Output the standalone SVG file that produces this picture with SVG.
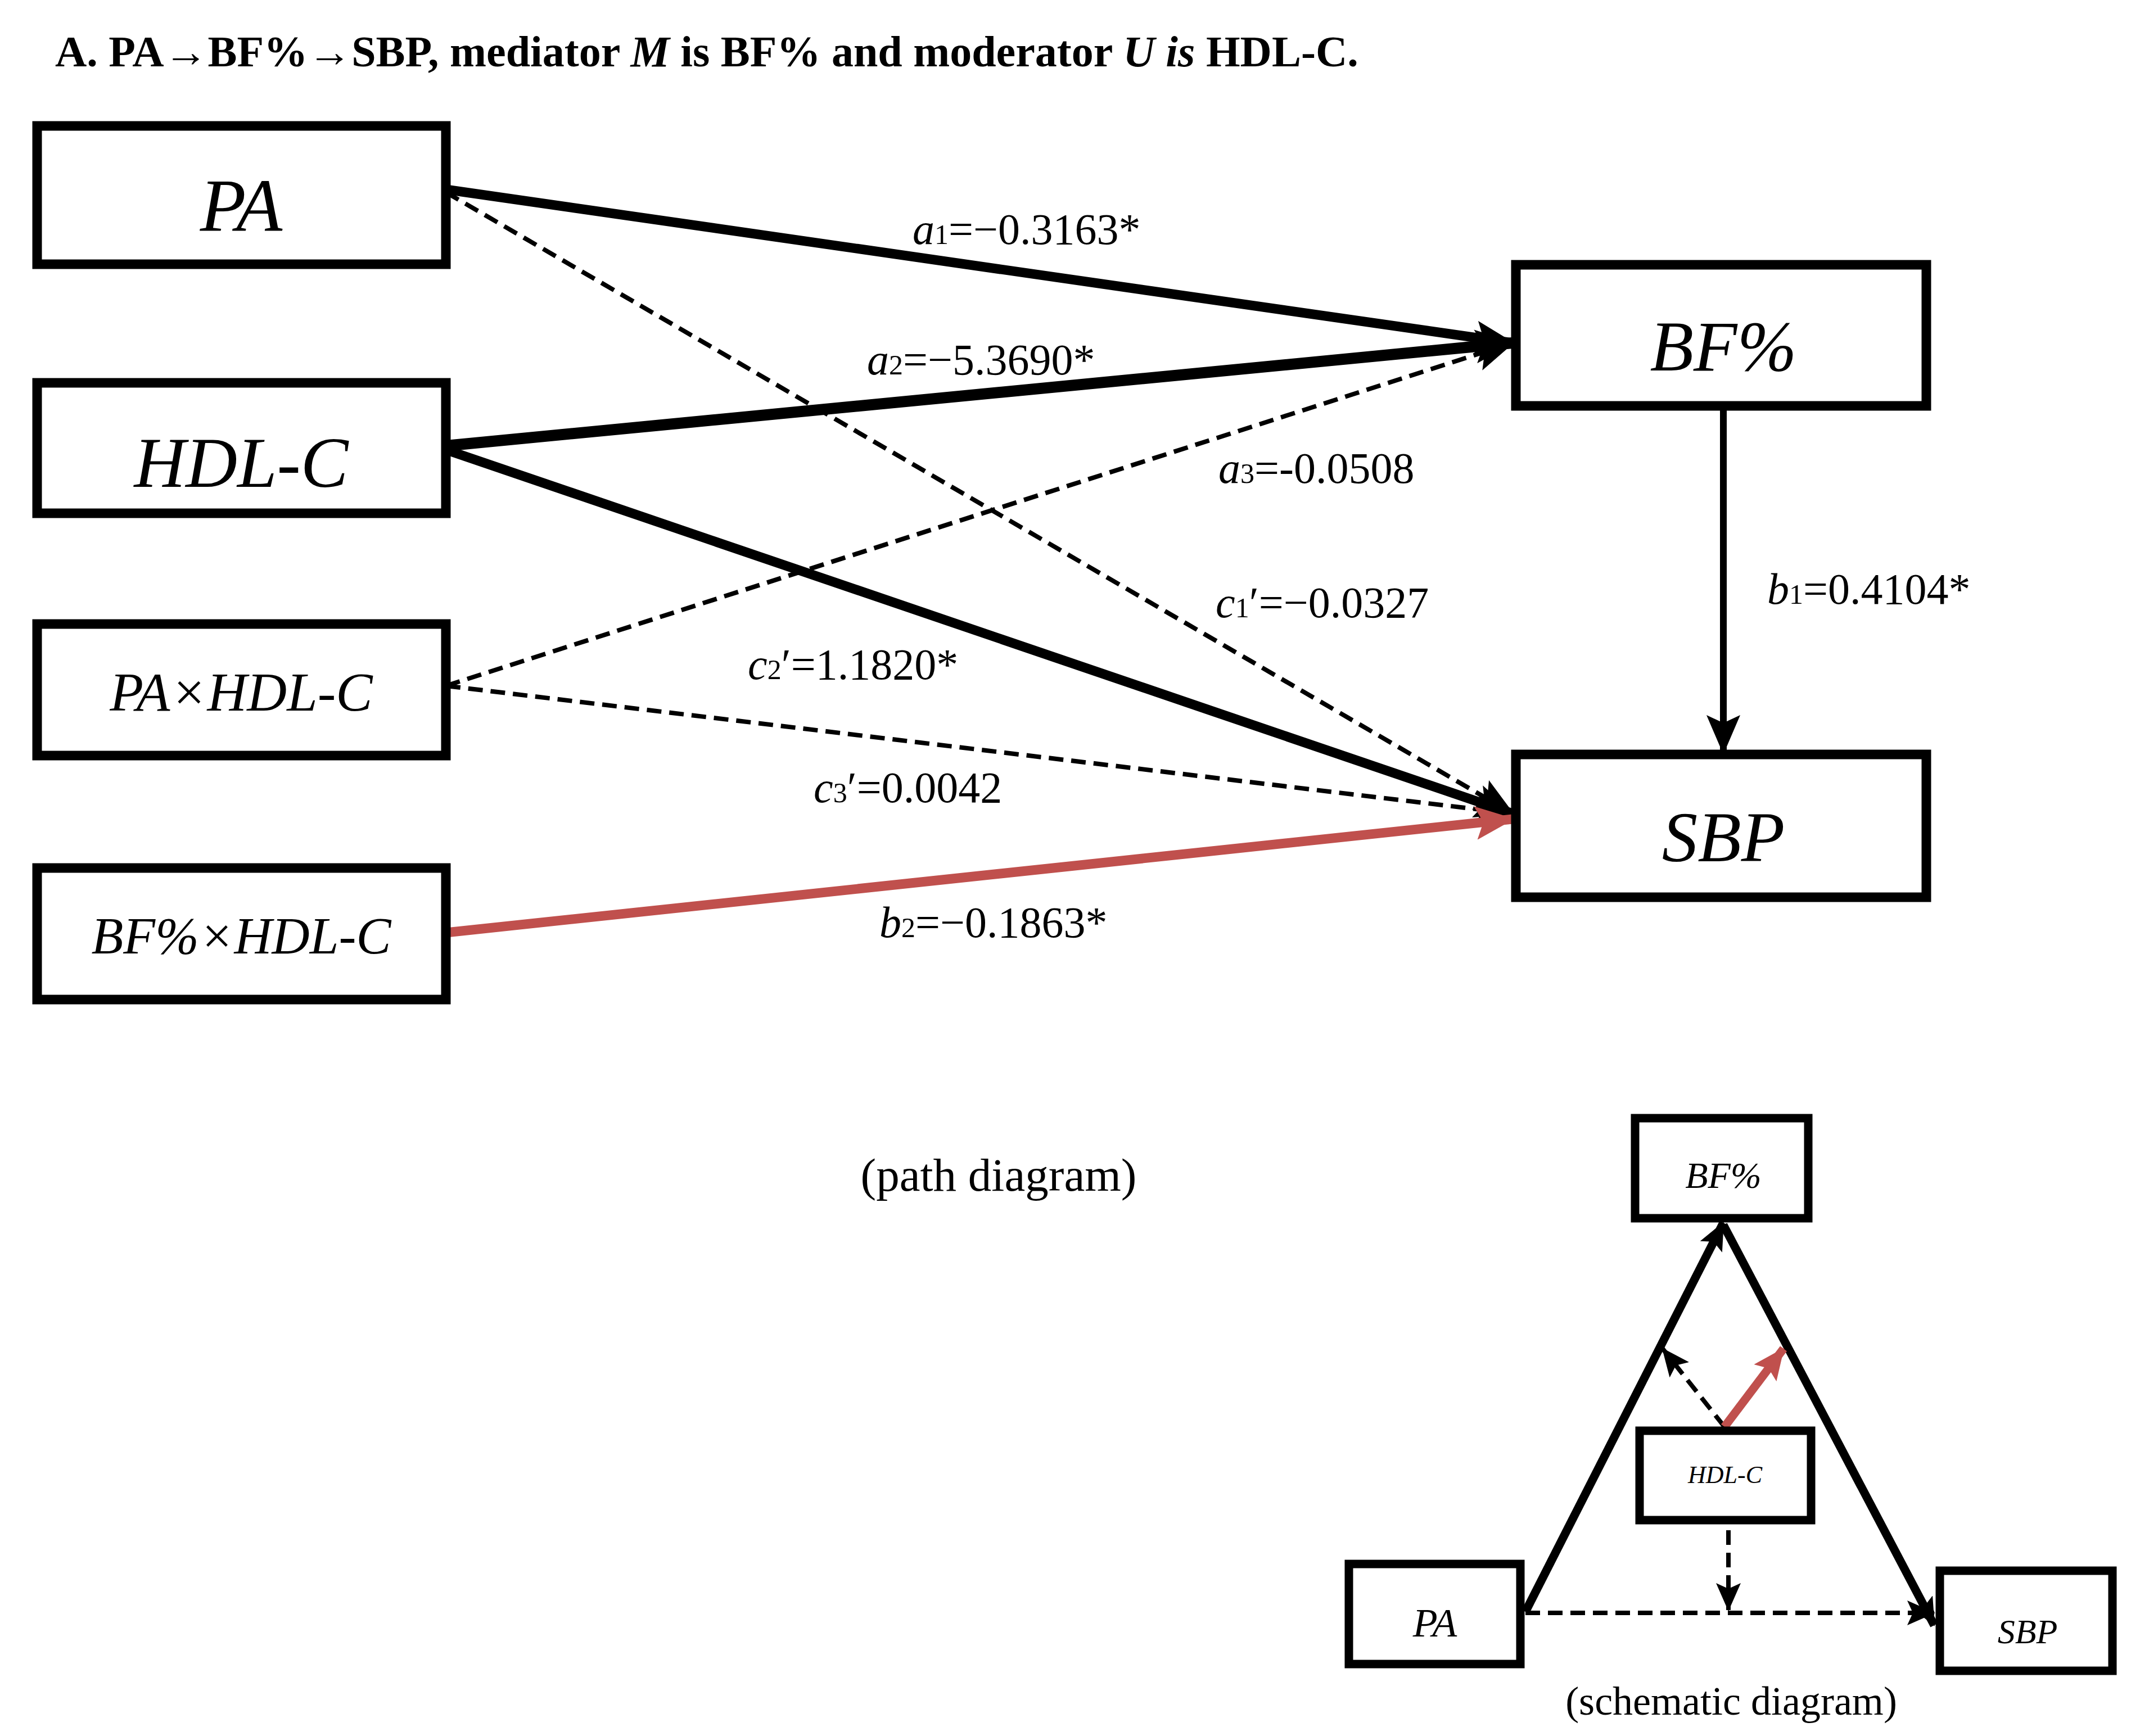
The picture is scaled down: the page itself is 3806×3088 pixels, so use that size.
<svg xmlns="http://www.w3.org/2000/svg" width="3806" height="3088" viewBox="0 0 3806 3088">
<style>
.box{fill:#fff;stroke:#000;stroke-width:17}
.sbox{fill:#fff;stroke:#000;stroke-width:15}
.t{font-family:"Liberation Serif",serif;fill:#000}
.it{font-family:"Liberation Serif",serif;font-style:italic;fill:#000}
.lab{font-family:"Liberation Serif",serif;font-size:78px;fill:#000}
.solid{stroke:#000;fill:none}
.dash{stroke:#000;fill:none;stroke-width:8;stroke-dasharray:26 14}
.red{stroke:#c0504d;fill:none}
</style>
<defs>
<marker id="ah" markerUnits="userSpaceOnUse" markerWidth="70" markerHeight="60" refX="66" refY="30" orient="auto" viewBox="0 0 70 60"><path d="M0,0 L70,30 L0,60 L14,30 Z" fill="#000"/></marker>
<marker id="ahr" markerUnits="userSpaceOnUse" markerWidth="70" markerHeight="60" refX="66" refY="30" orient="auto" viewBox="0 0 70 60"><path d="M0,0 L70,30 L0,60 L14,30 Z" fill="#c0504d"/></marker>
<marker id="ahs" markerUnits="userSpaceOnUse" markerWidth="50" markerHeight="44" refX="48" refY="22" orient="auto" viewBox="0 0 50 44"><path d="M0,0 L50,22 L0,44 L10,22 Z" fill="#000"/></marker>
<marker id="ahsr" markerUnits="userSpaceOnUse" markerWidth="56" markerHeight="50" refX="54" refY="25" orient="auto" viewBox="0 0 56 50"><path d="M0,0 L56,25 L0,50 L10,25 Z" fill="#c0504d"/></marker>
</defs>
<rect width="3806" height="3088" fill="#fff"/>
<text class="t" x="98" y="118" font-size="78" font-weight="bold">A. PA→BF%→SBP, mediator <tspan font-style="italic">M</tspan> is BF% and moderator <tspan font-style="italic">U is</tspan> HDL-C.</text>

<g id="connectors">
<line class="dash" x1="793" y1="342" x2="2690" y2="1447" marker-end="url(#ah)"/>
<line class="dash" x1="793" y1="1220" x2="2690" y2="610" marker-end="url(#ah)"/>
<line class="dash" x1="793" y1="1220" x2="2690" y2="1447" marker-end="url(#ah)"/>
<line class="solid" stroke-width="17" x1="793" y1="337" x2="2690" y2="610" marker-end="url(#ah)"/>
<line class="solid" stroke-width="20" x1="793" y1="793" x2="2690" y2="610" marker-end="url(#ah)"/>
<line class="solid" stroke-width="17" x1="793" y1="800" x2="2690" y2="1447" marker-end="url(#ah)"/>
<line class="red" stroke-width="17" x1="793" y1="1659" x2="2690" y2="1457" marker-end="url(#ahr)"/>
<line class="solid" stroke-width="12" x1="3065" y1="722" x2="3065" y2="1338" marker-end="url(#ah)"/>

<line class="solid" stroke-width="15" x1="2713" y1="2867" x2="3065" y2="2175" marker-end="url(#ahs)"/>
<line class="solid" stroke-width="15" x1="3065" y1="2179" x2="3440" y2="2891" marker-end="url(#ahs)"/>
<line class="dash" x1="2713" y1="2869" x2="3440" y2="2869" marker-end="url(#ahs)"/>
<line class="dash" x1="3074" y1="2722" x2="3074" y2="2864" marker-end="url(#ahs)"/>
<line class="dash" x1="3067" y1="2538" x2="2957" y2="2399" marker-end="url(#ahs)"/>
<line class="red" stroke-width="15" x1="3067" y1="2538" x2="3172" y2="2399" marker-end="url(#ahsr)"/>
</g>

<g id="n-pa"><rect class="box" x="66" y="224" width="727" height="246"/><text class="it" x="429" y="410" font-size="134" text-anchor="middle">PA</text></g>
<g id="n-hdl"><rect class="box" x="66" y="681" width="727" height="232"/><text class="it" x="429" y="866" font-size="127" text-anchor="middle">HDL-C</text></g>
<g id="n-paxhdl"><rect class="box" x="66" y="1110" width="727" height="234"/><text class="it" x="429" y="1264" font-size="98" text-anchor="middle">PA×HDL-C</text></g>
<g id="n-bfxhdl"><rect class="box" x="66" y="1544" width="727" height="234"/><text class="it" x="429" y="1696" font-size="93" text-anchor="middle">BF%×HDL-C</text></g>
<g id="n-bf"><rect class="box" x="2696" y="471" width="730" height="251"/><text class="it" x="3065" y="659" font-size="127" text-anchor="middle">BF%</text></g>
<g id="n-sbp"><rect class="box" x="2696" y="1342" width="730" height="254"/><text class="it" x="3065" y="1532" font-size="127" text-anchor="middle">SBP</text></g>

<g id="labels">
<text class="lab" x="1623" y="434"><tspan font-style="italic">a</tspan><tspan font-size="50">1</tspan>=−0.3163*</text>
<text class="lab" x="1542" y="666"><tspan font-style="italic">a</tspan><tspan font-size="50">2</tspan>=−5.3690*</text>
<text class="lab" x="2167" y="859"><tspan font-style="italic">a</tspan><tspan font-size="50">3</tspan>=-0.0508</text>
<text class="lab" x="2162" y="1098"><tspan font-style="italic">c</tspan><tspan font-size="50">1</tspan>′=−0.0327</text>
<text class="lab" x="3143" y="1074"><tspan font-style="italic">b</tspan><tspan font-size="50">1</tspan>=0.4104*</text>
<text class="lab" x="1330" y="1208"><tspan font-style="italic">c</tspan><tspan font-size="50">2</tspan>′=1.1820*</text>
<text class="lab" x="1447" y="1427"><tspan font-style="italic">c</tspan><tspan font-size="50">3</tspan>′=0.0042</text>
<text class="lab" x="1564" y="1667"><tspan font-style="italic">b</tspan><tspan font-size="50">2</tspan>=−0.1863*</text>
<text class="t" x="1776" y="2118" font-size="83" text-anchor="middle">(path diagram)</text>
</g>

<g id="s-bf"><rect class="sbox" x="2908" y="1989" width="308" height="178"/><text class="it" x="3065" y="2113" font-size="66" text-anchor="middle">BF%</text></g>
<g id="s-hdl"><rect class="sbox" x="2916" y="2545" width="305" height="159"/><text class="it" x="3068" y="2638" font-size="44" text-anchor="middle">HDL-C</text></g>
<g id="s-pa"><rect class="sbox" x="2399" y="2782" width="305" height="178"/><text class="it" x="2552" y="2911" font-size="72" text-anchor="middle">PA</text></g>
<g id="s-sbp"><rect class="sbox" x="3450" y="2794" width="307" height="178"/><text class="it" x="3606" y="2923" font-size="62" text-anchor="middle">SBP</text></g>
<text class="t" x="3079" y="3050" font-size="72" text-anchor="middle">(schematic diagram)</text>
</svg>
